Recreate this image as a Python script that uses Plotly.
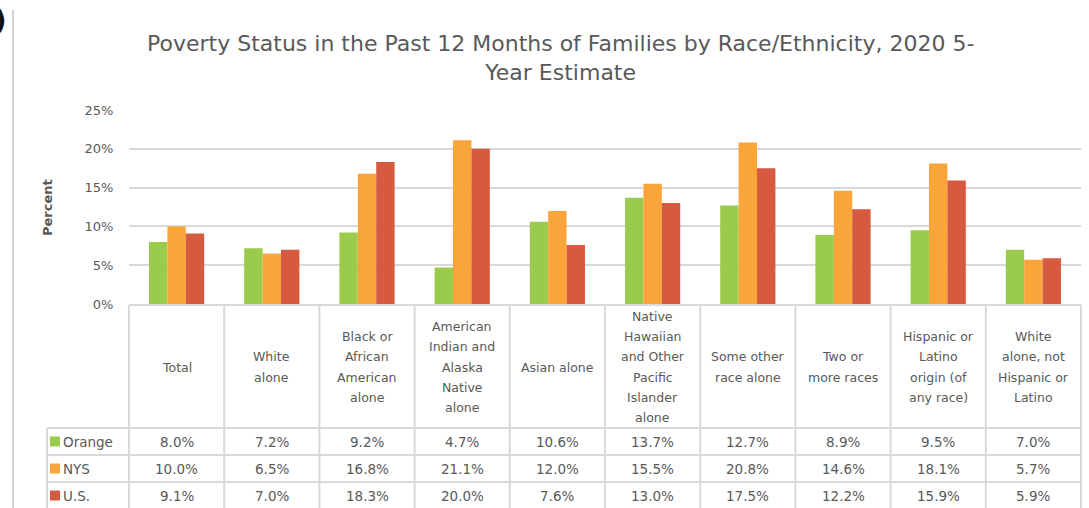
import plotly.graph_objects as go

categories = ["Total", "White alone", "Black or African American alone",
              "American Indian and Alaska Native alone", "Asian alone",
              "Native Hawaiian and Other Pacific Islander alone",
              "Some other race alone", "Two or more races",
              "Hispanic or Latino origin (of any race)",
              "White alone, not Hispanic or Latino"]
header_lines = [["Total"], ["White", "alone"], ["Black or", "African", "American", "alone"],
                ["American", "Indian and", "Alaska", "Native", "alone"], ["Asian alone"],
                ["Native", "Hawaiian", "and Other", "Pacific", "Islander", "alone"],
                ["Some other", "race alone"], ["Two or", "more races"],
                ["Hispanic or", "Latino", "origin (of", "any race)"],
                ["White", "alone, not", "Hispanic or", "Latino"]]
series_names = ["Orange", "NYS", "U.S."]
orange = [8.0, 7.2, 9.2, 4.7, 10.6, 13.7, 12.7, 8.9, 9.5, 7.0]
nys = [10.0, 6.5, 16.8, 21.1, 12.0, 15.5, 20.8, 14.6, 18.1, 5.7]
us = [9.1, 7.0, 18.3, 20.0, 7.6, 13.0, 17.5, 12.2, 15.9, 5.9]
y_ticks = [0, 5, 10, 15, 20, 25]
title_text = "Poverty Status in the Past 12 Months of Families by Race/Ethnicity, 2020 5-<br>Year Estimate"

colors = ["#9BCB4C", "#F9A53A", "#D55A3F"]
grey = "#595959"
line_c = "#D9D9D9"
FONT = "DejaVu Sans"

W, H = 1089, 508
# plot area in page pixels
L, R, T, B = 129, 1081, 110, 304
pw, ph = R - L, B - T

def px(x):
    return (x - L) / pw

def py(y):
    return (B - y) / ph

fig = go.Figure()
for name, vals, col in zip(series_names, [orange, nys, us], colors):
    fig.add_trace(go.Bar(x=categories, y=vals, name=name, marker_color=col,
                         marker_line_width=0, showlegend=False))

shapes = []
annotations = []
n = len(categories)
cw = pw / n

# table grid
row_tops = [428, 455, 482]
row_centers = [441.5, 468.5, 495.5]
shapes.append(dict(type="line", xref="paper", yref="paper", x0=px(L), x1=px(R),
                   y0=py(B + 1), y1=py(B + 1), line=dict(color=line_c, width=2)))
for yt in row_tops:
    shapes.append(dict(type="line", xref="paper", yref="paper", x0=px(47), x1=px(R),
                       y0=py(yt), y1=py(yt), line=dict(color=line_c, width=2)))
for i in range(n + 1):
    xx = L + i * cw
    shapes.append(dict(type="line", xref="paper", yref="paper", x0=px(xx), x1=px(xx),
                       y0=py(B + 1), y1=py(520), line=dict(color=line_c, width=2)))
shapes.append(dict(type="line", xref="paper", yref="paper", x0=px(47), x1=px(47),
                   y0=py(428), y1=py(520), line=dict(color=line_c, width=2)))
# page divider line at left
shapes.append(dict(type="line", xref="paper", yref="paper", x0=px(13), x1=px(13),
                   y0=py(10), y1=py(520), line=dict(color="#D0D0D0", width=2)))

# header labels
hc, hs = 367, 20.3
for i, lines in enumerate(header_lines):
    cx = L + (i + 0.5) * cw
    k = len(lines)
    for j, t in enumerate(lines):
        yy = hc + (j - (k - 1) / 2) * hs
        annotations.append(dict(text=t, x=px(cx), y=py(yy), xref="paper", yref="paper",
                                showarrow=False, xanchor="center", yanchor="middle",
                                font=dict(family=FONT, size=12.5, color=grey)))

# data rows
for r, (name, vals, col) in enumerate(zip(series_names, [orange, nys, us], colors)):
    yc = row_centers[r]
    shapes.append(dict(type="rect", xref="paper", yref="paper", x0=px(50), x1=px(60),
                       y0=py(yc - 5), y1=py(yc + 5), fillcolor=col, line=dict(width=0)))
    annotations.append(dict(text=name, x=px(61), y=py(yc), xref="paper", yref="paper",
                            showarrow=False, xanchor="left", yanchor="middle",
                            font=dict(family=FONT, size=13.5, color=grey)))
    for i, v in enumerate(vals):
        cx = L + (i + 0.5) * cw
        annotations.append(dict(text=f"{v:.1f}%", x=px(cx), y=py(yc), xref="paper", yref="paper",
                                showarrow=False, xanchor="center", yanchor="middle",
                                font=dict(family=FONT, size=13.5, color=grey)))

# title
annotations.append(dict(text=title_text, x=px(560), y=py(58), xref="paper", yref="paper",
                        showarrow=False, xanchor="center", yanchor="middle",
                        font=dict(family=FONT, size=22, color=grey)))
# y axis title
annotations.append(dict(text="<b>Percent</b>", x=px(47), y=py(208), xref="paper", yref="paper",
                        showarrow=False, xanchor="center", yanchor="middle", textangle=-90,
                        font=dict(family=FONT, size=13, color=grey)))
# cropped label at the left edge of the page
annotations.append(dict(text="<b>b)</b>", x=px(9), y=py(20), xref="paper", yref="paper",
                        showarrow=False, xanchor="right", yanchor="middle",
                        font=dict(family=FONT, size=26, color="#111111")))

fig.update_layout(
    width=W, height=H,
    margin=dict(l=L, r=W - R, t=T, b=H - B, pad=0),
    paper_bgcolor="white", plot_bgcolor="white",
    barmode="group", bargap=0.42, bargroupgap=0,
    shapes=shapes, annotations=annotations,
    font=dict(family=FONT, color=grey),
)
fig.update_xaxes(range=[-0.5, n - 0.5], showticklabels=False, showgrid=False,
                 zeroline=False, showline=False, ticks="")
fig.update_yaxes(range=[0, 25], tickvals=y_ticks, ticktext=[f"{t}%" for t in y_ticks],
                 showgrid=True, gridcolor=line_c, gridwidth=2, zeroline=False,
                 showline=False, ticks="outside", ticklen=12, tickcolor="rgba(0,0,0,0)",
                 tickfont=dict(family=FONT, size=13, color=grey))

fig.write_html("out.html", config={"displayModeBar": False},
               post_script="document.body.style.margin='0';")
